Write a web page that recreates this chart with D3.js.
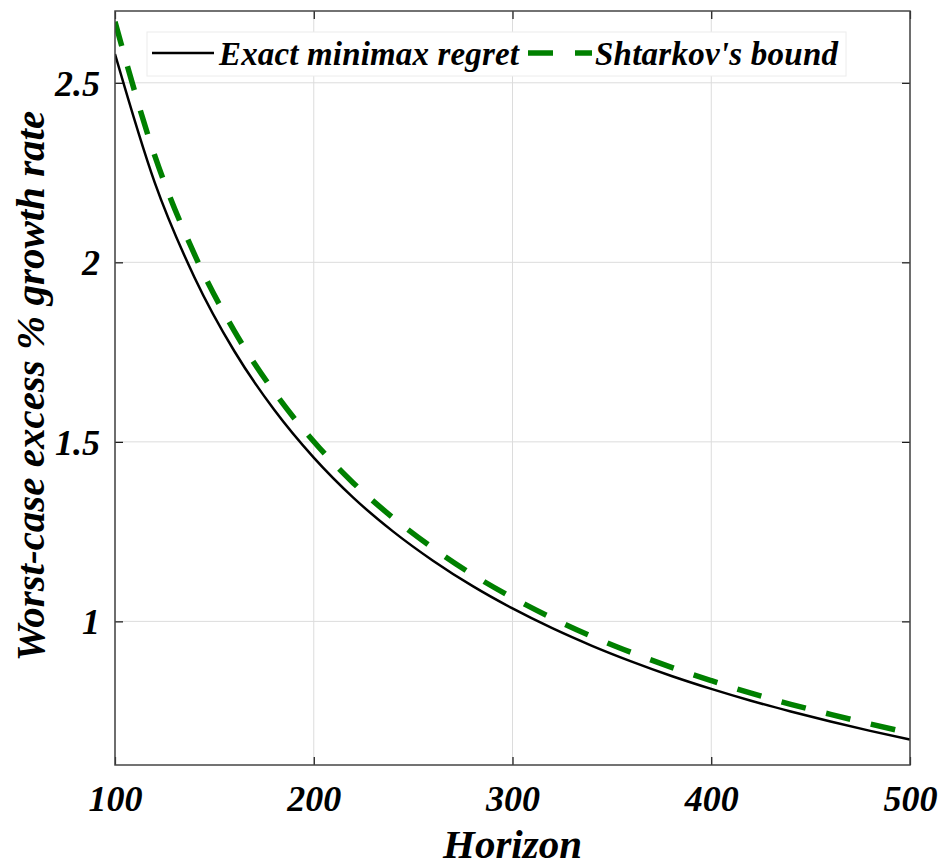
<!DOCTYPE html>
<html>
<head>
<meta charset="utf-8">
<script src="https://cdn.jsdelivr.net/npm/d3@7"></script>
<style>
  html, body { margin: 0; padding: 0; background: #fff; }
</style>
</head>
<body>
<svg id="chart" width="945" height="867"></svg>
<script>
// Data
const horizon = [100,120,140,160,180,200,220,240,260,280,300,320,340,360,380,400,420,440,460,480,500];
const exactRegret = [2.580,2.222,1.958,1.753,1.590,1.456,1.344,1.250,1.169,1.098,1.036,0.981,0.932,0.888,0.848,0.812,0.779,0.749,0.721,0.695,0.671];
const shtarkovBound = [2.670,2.297,2.022,1.809,1.640,1.501,1.385,1.288,1.204,1.130,1.066,1.009,0.958,0.913,0.872,0.835,0.800,0.769,0.741,0.714,0.689];
const xTicks = [100,200,300,400,500];
const yTicks = [1,1.5,2,2.5];
const yTickLabels = ["1","1.5","2","2.5"];
const seriesNames = ["Exact minimax regret","Shtarkov's bound"];

const FONT = '"Liberation Serif", "Times New Roman", Times, serif';
const svg = d3.select("#chart");
const L = 115, R = 910, T = 11, B = 765;

const x = d3.scaleLinear().domain([100,500]).range([L,R]);
const y = d3.scaleLinear().domain([0.6,2.7]).range([B,T]);

// grid
const grid = svg.append("g");
grid.selectAll("line.gx").data(xTicks).join("line")
  .attr("x1", d=>x(d)).attr("x2", d=>x(d)).attr("y1", T).attr("y2", B)
  .attr("stroke", "#dcdcdc").attr("stroke-width", 1);
grid.selectAll("line.gy").data(yTicks).join("line")
  .attr("x1", L).attr("x2", R).attr("y1", d=>y(d)).attr("y2", d=>y(d))
  .attr("stroke", "#dcdcdc").attr("stroke-width", 1);

// clip
svg.append("clipPath").attr("id","clip").append("rect")
  .attr("x", L).attr("y", T).attr("width", R-L).attr("height", B-T);

const pts1 = horizon.map((h,i)=>[h, exactRegret[i]]);
const pts2 = horizon.map((h,i)=>[h, shtarkovBound[i]]);
const line = d3.line().x(d=>x(d[0])).y(d=>y(d[1])).curve(d3.curveMonotoneX);

const plot = svg.append("g").attr("clip-path","url(#clip)");
plot.append("path").attr("d", line(pts1)).attr("fill","none")
  .attr("stroke","#000").attr("stroke-width",2.5);
plot.append("path").attr("d", line(pts2)).attr("fill","none")
  .attr("stroke","#008000").attr("stroke-width",5.5).attr("stroke-dasharray","25,21");

// axes (ticks inward)
const tickLen = 8;
const axB = svg.append("g").attr("transform",`translate(0,${B})`)
  .call(d3.axisBottom(x).tickValues(xTicks).tickSize(-tickLen).tickFormat(d3.format("d")).tickPadding(20));
const axT = svg.append("g").attr("transform",`translate(0,${T})`)
  .call(d3.axisTop(x).tickValues(xTicks).tickSize(-tickLen).tickFormat(""));
const axL = svg.append("g").attr("transform",`translate(${L},0)`)
  .call(d3.axisLeft(y).tickValues(yTicks).tickSize(-tickLen).tickFormat((d,i)=>yTickLabels[i]).tickPadding(15));
const axR = svg.append("g").attr("transform",`translate(${R},0)`)
  .call(d3.axisRight(y).tickValues(yTicks).tickSize(-tickLen).tickFormat(""));
[axB,axT,axL,axR].forEach(a=>{
  a.attr("font-family", FONT);
  a.select(".domain").remove();
  a.selectAll(".tick line").attr("stroke","#111").attr("stroke-width",1.2);
});
axB.selectAll(".tick text").attr("font-size",36).attr("fill","#000").attr("dy","0.71em");
axL.selectAll(".tick text").attr("font-size",36).attr("fill","#000").attr("dy","0.35em");

// frame
svg.append("rect").attr("x",L).attr("y",T).attr("width",R-L).attr("height",B-T)
  .attr("fill","none").attr("stroke","#444").attr("stroke-width",1.5);

// axis labels
svg.append("text").attr("x",(L+R)/2).attr("y",858).attr("text-anchor","middle")
  .attr("font-size",41).attr("fill","#000").text("Horizon");
svg.append("text").attr("transform",`translate(44,${(T+B)/2-2}) rotate(-90)`)
  .attr("text-anchor","middle").attr("font-size",41).attr("fill","#000")
  .text("Worst-case excess % growth rate");

// legend
const lg = svg.append("g");
lg.append("rect").attr("x",147).attr("y",32).attr("width",699).attr("height",44)
  .attr("fill","#fff").attr("stroke","#ececec").attr("stroke-width",1);
const ly = 53;
lg.append("line").attr("x1",152).attr("x2",214).attr("y1",ly).attr("y2",ly)
  .attr("stroke","#000").attr("stroke-width",2.5);
lg.append("text").attr("x",219).attr("y",ly+12).attr("font-size",33).attr("fill","#000")
  .attr("textLength",300).attr("lengthAdjust","spacing").text(seriesNames[0]);
lg.append("line").attr("x1",528).attr("x2",592).attr("y1",ly).attr("y2",ly)
  .attr("stroke","#008000").attr("stroke-width",5.5).attr("stroke-dasharray","25,22");
lg.append("text").attr("x",595).attr("y",ly+12).attr("font-size",33).attr("fill","#000")
  .attr("textLength",243).attr("lengthAdjust","spacing").text(seriesNames[1]);

svg.selectAll("text").attr("font-family", FONT).attr("font-weight","bold").attr("font-style","italic");
</script>
</body>
</html>
